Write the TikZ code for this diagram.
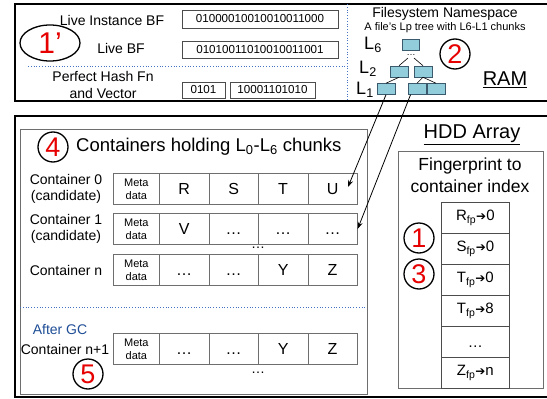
\documentclass[tikz,border=0pt]{standalone}
\usepackage{fontspec}
\setmainfont{Liberation Sans}
\newfontfamily\djv{DejaVu Sans}
\usetikzlibrary{arrows.meta,calc,shapes.geometric}
\newcommand{\fsz}[2]{\fontsize{#1}{#2}\selectfont}
\newcommand{\dd}{\vphantom{R}\char"2026\relax}
\newcommand{\ar}{{\djv\fontsize{12}{12}\selectfont\char"2794\relax}}
\definecolor{numred}{RGB}{230,0,0}
\definecolor{dotblue}{RGB}{68,114,196}
\definecolor{gcblue}{RGB}{31,78,150}
\definecolor{treefill}{RGB}{146,205,220}
\definecolor{treedraw}{RGB}{60,90,110}
\definecolor{cellgray}{RGB}{110,110,110}
\begin{document}
\begin{tikzpicture}[x=1pt,y=-1pt,
  lbl/.style={inner sep=0pt, font=\fsz{14}{16}, align=center},
  bits/.style={draw=black!70, line width=0.7pt, inner sep=0pt, font=\fsz{11.6}{14}},
  cell/.style={draw=cellgray, line width=0.7pt, minimum height=31pt, inner sep=0pt, anchor=north west, font=\fsz{16}{18}},
  numc/.style={circle, draw, line width=1.3pt, minimum size=30pt, inner sep=0pt, text=numred, font=\fsz{27}{27}},
  tbox/.style={draw=treedraw, fill=treefill, minimum width=18pt, minimum height=11pt, inner sep=0pt, line width=0.5pt},
  idx/.style={draw=black!70, line width=0.7pt, minimum width=68pt, minimum height=31pt, inner sep=0pt, anchor=north west, font=\fsz{15}{17}},
  dotline/.style={dotblue, dotted, line width=0.8pt},
  conn/.style={-{Stealth[length=7pt,width=5pt]}, line width=0.8pt}
]
\useasboundingbox (0,0) rectangle (547,399);
\clip (0,0) rectangle (547,399);
\fill[white] (0,0) rectangle (547,399);

% ---------- RAM box ----------
\draw[line width=2pt] (15,4) rectangle (560,101);
\draw[dotline] (347,4) -- (347,101);
\draw[dotline] (28,66) -- (347,66);

\node[lbl] (lib) at (112,20) {Live Instance BF};
\node[lbl] (lbf) at (121,48) {Live BF};
\node[lbl, font=\fsz{14}{17}] (phf) at (103,85) {Perfect Hash Fn\\and Vector};
\node[bits, minimum width=156pt, minimum height=18pt] (b1) at (260,19) {01000010010010011000};
\node[bits, minimum width=156pt, minimum height=17pt] (b2) at (260,49.5) {01010011010010011001};
\node[bits, minimum width=43pt, minimum height=16pt] (b3) at (203.5,90) {0101};
\node[bits, minimum width=85pt, minimum height=16pt] (b4) at (272.5,90) {10001101010};
\node[draw, ellipse, line width=1.3pt, minimum width=60pt, minimum height=36pt, inner sep=0pt, text=numred, font=\fsz{30}{30}] (n1p) at (50,43) {1’};

\node[lbl] (fsn) at (445,14) {Filesystem Namespace};
\node[lbl, font=\fsz{11}{13}] (fss) at (445,28) {A file's Lp tree with L6-L1 chunks};
\node[tbox, minimum width=17pt] (L6) at (410.5,44.5) {};
\node[tbox] (L2a) at (399,71.5) {};
\node[tbox] (L2b) at (423,71.5) {};
\node[tbox] (L1a) at (386,89) {};
\node[tbox] (L1b) at (417,89) {};
\node[tbox] (L1c) at (436,89) {};
\node[inner sep=0pt, font=\fsz{9}{9}] (tdots) at (411,55) {\char"2026\relax};
\coordinate (tdot) at (411,57);
\draw[line width=0.6pt] ($(tdot)+(-3,1)$) -- (L2a.north);
\draw[line width=0.6pt] ($(tdot)+(3,1)$) -- (L2b.north);
\draw[line width=0.6pt] (L2a.south) -- (L1a.north);
\draw[line width=0.6pt] (L2b.south) -- (L1b.north);
\draw[line width=0.6pt] (L2b.south) -- (L1c.north);
\node[lbl, font=\fsz{18}{18}] (l6) at (373,45) {L\textsubscript{6}};
\node[lbl, font=\fsz{18}{18}] (l2) at (368,69) {L\textsubscript{2}};
\node[lbl, font=\fsz{18}{18}] (l1) at (365,90) {L\textsubscript{1}};
\node[numc] (n2) at (455,54) {2};
\node[lbl, font=\fsz{20}{20}] (ram) at (505,80) {\underline{RAM}};

% ---------- HDD box ----------
\draw[line width=1.8pt] (15,116) rectangle (560,397);
\draw[cellgray, line width=0.8pt] (20,129) rectangle (367,394);
\node[numc] (n4) at (53,147) {4};
\node[lbl, anchor=west, font=\fsz{18.5}{20}] (title) at (76,147) {Containers holding L\textsubscript{0}-L\textsubscript{6} chunks};

\foreach \r/\y/\a/\b/\c/\d in {0/173/R/S/T/U, 1/213/V/\dd/\dd/\dd, n/254/\dd/\dd/Y/Z, m/333/\dd/\dd/Y/Z}{
  \node[cell, minimum width=46pt, font=\fsz{11}{13}, align=center] (c\r-0) at (113,\y) {Meta\\data};
  \node[cell, minimum width=49.5pt] (c\r-1) at (159,\y) {\a};
  \node[cell, minimum width=49.5pt] (c\r-2) at (208.5,\y) {\b};
  \node[cell, minimum width=49.5pt] (c\r-3) at (258,\y) {\c};
  \node[cell, minimum width=49.5pt] (c\r-4) at (307.5,\y) {\d};
}
\node[lbl] (k0) at (66,189) {Container 0\\(candidate)};
\node[lbl] (k1) at (66,229) {Container 1\\(candidate)};
\node[lbl] (kn) at (66,270) {Container n};
\node[lbl, text=gcblue] (gc) at (60,329) {After GC};
\node[lbl] (km) at (65,349) {Container n+1};
\node[inner sep=0pt, font=\fsz{14}{14}] (vd1) at (258,248) {\char"2026\relax};
\node[inner sep=0pt, font=\fsz{14}{14}] (vd2) at (258,373) {\char"2026\relax};
\draw[dotline] (20,307) -- (366,307);
\node[numc] (n5) at (88,374) {5};

\node[lbl, font=\fsz{20}{20}] (hdd) at (472,135) {\underline{HDD Array}};
\draw[cellgray, line width=0.8pt] (398,151) rectangle (543,388);
\node[lbl, font=\fsz{17.5}{22}] (fpt) at (470,175) {Fingerprint to\\container index};
\node[idx] (i0) at (441,202) {R\textsubscript{fp}\ar0};
\node[idx] (i1) at (441,233) {S\textsubscript{fp}\ar0};
\node[idx] (i2) at (441,264) {T\textsubscript{fp}\ar0};
\node[idx] (i3) at (441,295) {T\textsubscript{fp}\ar8};
\node[idx] (i4) at (441,326) {\dd};
\node[idx] (i5) at (441,357) {Z\textsubscript{fp}\ar n};
\node[numc] (n1) at (419,238) {1};
\node[numc] (n3) at (419,274) {3};

% ---------- connectors ----------
\coordinate (aU) at (348,187);
\coordinate (a2s) at ($(L1b.south west)!0.15!(L1b.south east)$);
\draw[conn] (L1a.south) -- (aU);
\draw[conn] (a2s) -- (c1-4.east);
\end{tikzpicture}
\end{document}
